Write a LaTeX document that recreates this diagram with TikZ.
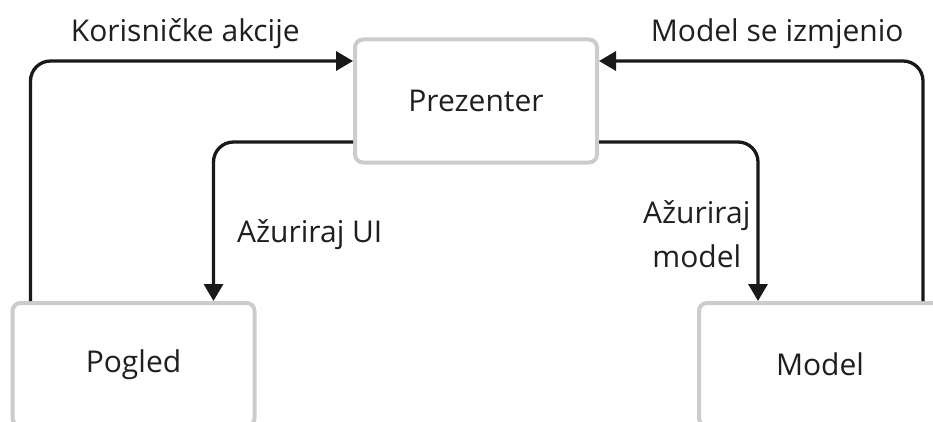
\documentclass[tikz,border=0pt]{standalone}
\usepackage{fontspec}
\setmainfont{Open Sans}
\usetikzlibrary{arrows.meta,positioning}
\definecolor{BoxClr}{rgb}{0.8,0.8,0.8}
\definecolor{LineClr}{rgb}{0.1,0.1,0.1}
\definecolor{TextClr}{rgb}{0.12,0.12,0.12}

\begin{document}
\begin{tikzpicture}[x=1pt,y=1pt,
  box/.style={draw=BoxClr,line width=4pt,rounded corners=8pt,
    minimum width=242pt,minimum height=123pt,text=TextClr,
    font=\fontsize{30}{36}\selectfont},
  conn/.style={draw=LineClr,line width=3.3pt,rounded corners=20pt,
    -{Triangle[length=17pt,width=19pt]}},
  lbl/.style={inner sep=0pt,text=TextClr,font=\fontsize{30}{44}\selectfont}]
\clip (0,0) rectangle (933,421);

\node[box] (prez) at (476,320) {Prezenter};
\node[box] (pogled) at (133.5,56.5) {Pogled};
\node[box] (model) at (820,56.5) {Model};

% upper loop
\draw[conn] ([xshift=20pt]pogled.north west) |- ([yshift=40pt]prez.west)
  node[lbl,pos=.74,above=11pt] {Korisničke akcije};
\draw[conn] ([xshift=-20pt]model.north east) |- ([yshift=40pt]prez.east)
  node[lbl,pos=.725,above=11pt] {Model se izmjenio};

% lower loop
\draw[conn] ([yshift=-41pt]prez.west) -| ([xshift=80pt]pogled.north)
  node[lbl,pos=.79,right=22pt] {Ažuriraj UI};
\draw[conn] ([yshift=-41pt]prez.east) -| ([xshift=-62pt]model.north)
  node[lbl,pos=.79,left=6pt,align=center] {Ažuriraj\\model};

\end{tikzpicture}
\end{document}
